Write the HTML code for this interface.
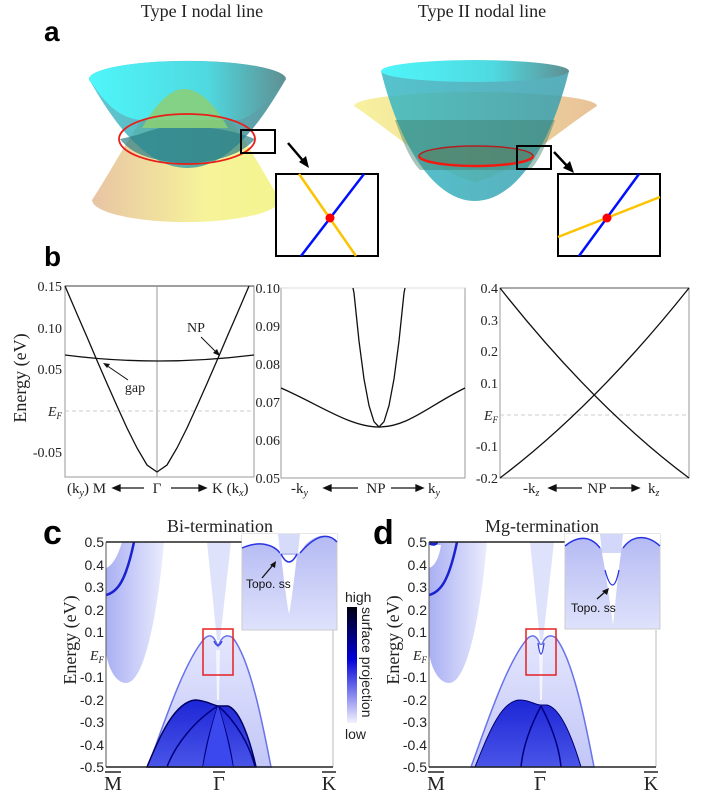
<!DOCTYPE html>
<html><head><meta charset="utf-8"><style>
html,body{margin:0;padding:0;background:#fff;}
svg{display:block;}
.s{font-family:"Liberation Serif",serif;}
.a{font-family:"Liberation Sans",sans-serif;}
</style></head><body>
<svg width="708" height="792" viewBox="0 0 708 792" xmlns="http://www.w3.org/2000/svg">
<defs>
<linearGradient id="yel1" x1="0" x2="1" y1="0" y2="0"><stop offset="0" stop-color="#e8c4a4"/><stop offset="0.6" stop-color="#f6f39a"/><stop offset="1" stop-color="#f4f48e"/></linearGradient>
<linearGradient id="cy1" x1="0" x2="1"><stop offset="0" stop-color="#2fb9c6"/><stop offset="1" stop-color="#2d7e88"/></linearGradient>
<linearGradient id="cyt" x1="0" x2="1"><stop offset="0" stop-color="#4ff6fa"/><stop offset="0.6" stop-color="#4fd9e0"/><stop offset="1" stop-color="#5f8f92"/></linearGradient>
<linearGradient id="yel2" x1="0" x2="1"><stop offset="0" stop-color="#f7f199"/><stop offset="1" stop-color="#e7bf93"/></linearGradient>
<linearGradient id="cy2" x1="0" x2="1"><stop offset="0" stop-color="#38b8c4"/><stop offset="1" stop-color="#3a9fae"/></linearGradient>
<linearGradient id="cb" x1="0" x2="0" y1="0" y2="1"><stop offset="0" stop-color="#000010"/><stop offset="0.45" stop-color="#0000d8"/><stop offset="1" stop-color="#f2f2ff"/></linearGradient>
<linearGradient id="dome" x1="0" x2="0" y1="0" y2="1"><stop offset="0" stop-color="#e4e6fd"/><stop offset="1" stop-color="#c2c7f7"/></linearGradient>
<linearGradient id="dark" x1="0" x2="0" y1="0" y2="1"><stop offset="0" stop-color="#1d26d6"/><stop offset="1" stop-color="#4a55e8"/></linearGradient>
<linearGradient id="ins" x1="0" x2="0" y1="0" y2="1"><stop offset="0" stop-color="#b3b9f3"/><stop offset="1" stop-color="#dfe2fb"/></linearGradient>
<linearGradient id="lf" x1="0" x2="1"><stop offset="0" stop-color="#8d95ef"/><stop offset="1" stop-color="#e3e5fc"/></linearGradient>
</defs>

<!-- Panel a -->
<text x="202" y="17" class="s" font-size="18" text-anchor="middle" fill="#222">Type I nodal line</text>
<text x="482" y="17" class="s" font-size="18" text-anchor="middle" fill="#222">Type II nodal line</text>
<text x="44" y="41" class="a" font-size="28" font-weight="bold">a</text>

<!-- Type I -->
<path d="M92,200 C125,150 150,89 184,89 C220,89 250,150 280,200 A94,22 0 0 1 92,200 Z" fill="url(#yel1)"/>
<path d="M89,79 C112,120 145,168 187,168 C230,168 262,120 286,79 A98,18 0 0 0 89,79 Z" fill="url(#cy1)" opacity="0.78"/>
<ellipse cx="187" cy="79" rx="98" ry="18" fill="url(#cyt)"/>
<path d="M89,79 C110,112 125,118 140,120 L240,120 C255,115 270,100 286,79 Z" fill="url(#cyt)"/>
<path d="M142,128 C155,105 170,89 184,89 C200,89 215,105 228,128 Z" fill="#8ccf74" opacity="0.85"/>
<path d="M120,139 C140,135 150,130 160,128 L210,128 C230,130 245,135 255,139 C245,150 230,160 187,164 C145,160 130,152 120,139 Z" fill="#2a7f88" opacity="0.7"/>
<ellipse cx="187" cy="139" rx="68" ry="25" fill="none" stroke="#e8201a" stroke-width="1.8"/>
<rect x="241" y="130" width="34" height="23" fill="none" stroke="#000" stroke-width="2"/>
<line x1="288" y1="143" x2="305" y2="163" stroke="#000" stroke-width="2.5"/>
<path d="M309,168 L299,162 L306,156 Z" fill="#000"/>
<rect x="276" y="174" width="102" height="82" fill="#fff" stroke="#000" stroke-width="2"/>
<line x1="299" y1="174" x2="356" y2="256" stroke="#fbc300" stroke-width="2.5"/>
<line x1="301" y1="256" x2="364" y2="174" stroke="#0010ff" stroke-width="2.5"/>
<circle cx="330" cy="218" r="4.5" fill="#f00"/>

<!-- Type II -->
<path d="M354,106 C390,130 440,175 475,182 C510,175 560,130 597,106 A121,14 0 0 0 354,106 Z" fill="url(#yel2)" opacity="0.95"/>
<path d="M381,71 C398,140 432,201 475,201 C518,201 552,140 569,71 Z" fill="url(#cy2)" opacity="0.85"/>
<path d="M395,120 L555,120 C548,140 540,160 530,170 L420,170 C410,160 402,140 395,120 Z" fill="#3e7e6a" opacity="0.45"/>
<ellipse cx="475" cy="71" rx="94" ry="11" fill="url(#cyt)"/>
<ellipse cx="476" cy="156" rx="57" ry="10" fill="#5a7a5a" opacity="0.5"/>
<path d="M419,156 A57,10 0 0 0 533,156" fill="none" stroke="#f01a10" stroke-width="2.5"/>
<path d="M419,156 A57,10 0 0 1 533,156" fill="none" stroke="#b02020" stroke-width="1.5"/>
<rect x="517" y="146" width="34" height="23" fill="none" stroke="#000" stroke-width="2"/>
<line x1="554" y1="152" x2="569" y2="168" stroke="#000" stroke-width="2.5"/>
<path d="M574,173 L563,168 L570,161 Z" fill="#000"/>
<rect x="558" y="174" width="102" height="82" fill="#fff" stroke="#000" stroke-width="2"/>
<line x1="579" y1="256" x2="639" y2="174" stroke="#0010ff" stroke-width="2.5"/>
<line x1="558" y1="237" x2="660" y2="197" stroke="#fbc300" stroke-width="2.5"/>
<circle cx="607" cy="218" r="4.5" fill="#f00"/>

<!-- Panel b -->
<text x="44" y="266" class="a" font-size="28" font-weight="bold">b</text>
<text transform="translate(26,378) rotate(-90)" class="s" font-size="18" text-anchor="middle" fill="#222">Energy (eV)</text>

<g class="s" font-size="14" fill="#222" text-anchor="end">
<text x="62" y="291">0.15</text><text x="62" y="333">0.10</text><text x="62" y="374">0.05</text>
<text x="62" y="416" font-style="italic">E<tspan font-size="9" dy="3">F</tspan></text>
<text x="62" y="457">-0.05</text>
<text x="280" y="293">0.10</text><text x="280" y="331">0.09</text><text x="280" y="369">0.08</text><text x="280" y="407">0.07</text><text x="280" y="445">0.06</text><text x="280" y="483">0.05</text>
<text x="498" y="293">0.4</text><text x="498" y="325">0.3</text><text x="498" y="356">0.2</text><text x="498" y="388">0.1</text>
<text x="498" y="420" font-style="italic">E<tspan font-size="9" dy="3">F</tspan></text>
<text x="498" y="451">-0.1</text><text x="498" y="483">-0.2</text>
</g>

<rect x="65" y="286" width="189" height="191" fill="none" stroke="#999" stroke-width="1"/>
<line x1="65" y1="286" x2="254" y2="286" stroke="#666" stroke-width="1.2"/>
<line x1="157" y1="286" x2="157" y2="477" stroke="#999" stroke-width="1"/>
<line x1="65" y1="411" x2="254" y2="411" stroke="#ccc" stroke-dasharray="4,3"/>
<polyline fill="none" stroke="#111" stroke-width="1.3" points="65,286 77,314 87,337 97,360.5 107,383.5 117,406 127,428 137,448 147,465 157,472 167,465 177,448 187,428 197,406 207,383.5 217,360.5 227,337 237,314 249,286"/>
<path d="M65,355 Q157,367 254,355" fill="none" stroke="#111" stroke-width="1.3"/>
<text x="135" y="392" class="s" font-size="14" text-anchor="middle" fill="#222">gap</text>
<line x1="128" y1="380" x2="106" y2="365" stroke="#111" stroke-width="1"/>
<path d="M103,363 L110,364 L107,368 Z" fill="#111"/>
<text x="196" y="332" class="s" font-size="14" text-anchor="middle" fill="#222">NP</text>
<line x1="201" y1="337" x2="217" y2="353" stroke="#111" stroke-width="1"/>
<path d="M220,356 L213,353 L217,349 Z" fill="#111"/>
<g class="s" font-size="15" fill="#222">
<text x="67" y="493">(k<tspan font-size="10" font-style="italic" dy="3">y</tspan><tspan dy="-3">) M</tspan></text>
<text x="157" y="493" text-anchor="middle">Γ</text>
<text x="212" y="493">K (k<tspan font-size="10" font-style="italic" dy="3">x</tspan><tspan dy="-3">)</tspan></text>
<text x="291" y="493">-k<tspan font-size="10" font-style="italic" dy="3">y</tspan></text>
<text x="376" y="493" text-anchor="middle">NP</text>
<text x="428" y="493">k<tspan font-size="10" font-style="italic" dy="3">y</tspan></text>
<text x="523" y="493">-k<tspan font-size="10" font-style="italic" dy="3">z</tspan></text>
<text x="597" y="493" text-anchor="middle">NP</text>
<text x="648" y="493">k<tspan font-size="10" font-style="italic" dy="3">z</tspan></text>
</g>
<g stroke="#111" stroke-width="1.3" fill="#111">
<line x1="116" y1="488" x2="144" y2="488"/><path d="M113,488 L120,485 L120,491 Z"/>
<line x1="171" y1="488" x2="202" y2="488"/><path d="M206,488 L199,485 L199,491 Z"/>
<line x1="328" y1="488" x2="358" y2="488"/><path d="M324,488 L331,485 L331,491 Z"/>
<line x1="391" y1="488" x2="419" y2="488"/><path d="M423,488 L416,485 L416,491 Z"/>
<line x1="553" y1="488" x2="582" y2="488"/><path d="M549,488 L556,485 L556,491 Z"/>
<line x1="610" y1="488" x2="635" y2="488"/><path d="M639,488 L632,485 L632,491 Z"/>
</g>

<rect x="281" y="288" width="184" height="190" fill="none" stroke="#999"/>
<line x1="281" y1="288" x2="465" y2="288" stroke="#ddd"/>
<polyline fill="none" stroke="#111" stroke-width="1.3" points="353,288 354,293 359,341 364,379 369,405.6 374,421.7 379,427 384,421.7 389,405.6 394,379 399,341 404,293 405,288"/>
<path d="M281,388 C320,405 350,427 379,427 C408,427 430,405 465,388" fill="none" stroke="#111" stroke-width="1.3"/>

<rect x="500" y="288" width="189" height="190" fill="none" stroke="#999"/>
<line x1="500" y1="288" x2="689" y2="288" stroke="#555"/>
<line x1="500" y1="415" x2="689" y2="415" stroke="#ccc" stroke-dasharray="4,3"/>
<path d="M500,288 Q594,407 689,478" fill="none" stroke="#111" stroke-width="1.3"/>
<path d="M500,478 Q594,407 689,288" fill="none" stroke="#111" stroke-width="1.3"/>

<!-- Panels c & d -->
<text x="43" y="544" class="a" font-size="34" font-weight="bold">c</text>
<text x="373" y="544" class="a" font-size="34" font-weight="bold">d</text>
<text x="220" y="532" class="s" font-size="18" text-anchor="middle" fill="#222">Bi-termination</text>
<text x="542" y="532" class="s" font-size="18" text-anchor="middle" fill="#222">Mg-termination</text>

<g>
<rect x="106" y="542" width="227" height="225" fill="#fff"/>
<path d="M106,542 L164,542 C158,610 145,683 126,683 C113,683 106,660 106,650 Z" fill="url(#lf)" opacity="0.75"/>
<path d="M106,542 L122,542 C118,556 112,566 106,568 Z" fill="#fff"/>
<path d="M106,595 C118,592 126,580 134,542" fill="none" stroke="#1a22d0" stroke-width="2.5"/>
<path d="M207,542 L231,542 L220,640 L217,640 Z" fill="#dfe2fb"/>
<path d="M148,767 C165,720 185,660 205,638 Q211,633 215,640 L218,646 L221,640 Q226,633 233,638 C250,660 262,720 271,767 Z" fill="url(#dome)" stroke="#6a73ea" stroke-width="1.5"/>
<path d="M216,650 L220,650 L219,700 L217,700 Z" fill="#f4f5ff"/>
<path d="M214,641 Q218,650 222,641" fill="none" stroke="#3a44e0" stroke-width="1.5"/>
<path d="M147,767 C160,735 175,702 195,700 C205,700 212,705 218,706 L228,706 C240,710 250,740 256,767 Z" fill="url(#dark)" stroke="#000060" stroke-width="1.5"/>
<path d="M218,706 C195,720 175,745 167,767 M218,706 C212,725 206,745 203,767 M218,706 C224,725 230,745 233,767 M218,706 C235,720 250,745 255,767" fill="none" stroke="#000080" stroke-width="1.5"/>
<path d="M203,767 C210,730 216,712 218,706 C220,712 226,730 233,767 Z" fill="#3a48ee"/>
<line x1="106" y1="542" x2="242" y2="542" stroke="#222" stroke-width="1.5"/>
<line x1="106" y1="542" x2="106" y2="767" stroke="#555"/>
<line x1="333" y1="630" x2="333" y2="767" stroke="#bbb"/>
<line x1="106" y1="767" x2="333" y2="767" stroke="#222" stroke-width="1.5"/>
<rect x="203" y="629" width="30" height="46" fill="none" stroke="#e62020" stroke-width="1.5"/>
<rect x="242" y="534" width="95" height="96" fill="url(#ins)" stroke="#ccc"/>
<path d="M242,534 L337,534 L337,542 C330,534 318,532 305,545 L300,553 L280,553 C274,545 260,540 242,548 Z" fill="#fff"/>
<path d="M242,548 C260,540 274,545 280,553 M300,553 C318,532 330,534 337,542" fill="none" stroke="#2a34e0" stroke-width="1.5"/>
<path d="M278,534 L300,534 L298,553 L280,553 Z" fill="#d7dbfa"/>
<path d="M281,555 L297,555 C294,580 291,605 289,614 C287,605 284,580 281,555 Z" fill="#fff"/>
<path d="M281,554 Q289,570 297,554" fill="none" stroke="#2a34e0" stroke-width="1.5"/>
<text x="246" y="588" class="a" font-size="12" fill="#111">Topo. ss</text>
<line x1="262" y1="578" x2="273" y2="565" stroke="#111" stroke-width="1.3"/>
<path d="M276,561 L275,568 L270,565 Z" fill="#111"/>
</g>

<g transform="translate(323,0)">
<rect x="106" y="542" width="227" height="225" fill="#fff"/>
<path d="M106,542 L164,542 C158,610 145,683 126,683 C113,683 106,660 106,650 Z" fill="url(#lf)" opacity="0.75"/>
<path d="M106,545 L118,545 C116,558 112,566 106,568 Z" fill="#fff"/>
<path d="M106,543 Q112,546 114,542" fill="none" stroke="#1a22d0" stroke-width="3"/>
<path d="M106,595 C118,592 126,580 134,542" fill="none" stroke="#1a22d0" stroke-width="2.5"/>
<path d="M207,542 L231,542 L220,640 L217,640 Z" fill="#dfe2fb"/>
<path d="M148,767 C165,720 185,660 205,638 Q211,633 215,640 L218,646 L221,640 Q226,633 233,638 C250,660 262,720 271,767 Z" fill="url(#dome)" stroke="#6a73ea" stroke-width="1.5"/>
<path d="M216,645 L220,645 L219,700 L217,700 Z" fill="#f4f5ff"/>
<path d="M215,643 Q218,665 221,643" fill="none" stroke="#3a44e0" stroke-width="1.3"/>
<path d="M152,767 C165,735 178,700 197,700 C207,700 212,705 218,705 L224,705 C238,708 250,740 258,767 Z" fill="url(#dark)" stroke="#000070" stroke-width="1"/>
<path d="M218,706 C208,725 200,745 198,767 M218,706 C228,725 236,745 238,767" fill="none" stroke="#000080" stroke-width="1.5"/>
<line x1="106" y1="542" x2="242" y2="542" stroke="#222" stroke-width="1.5"/>
<line x1="106" y1="542" x2="106" y2="767" stroke="#555"/>
<line x1="333" y1="630" x2="333" y2="767" stroke="#bbb"/>
<line x1="106" y1="767" x2="333" y2="767" stroke="#222" stroke-width="1.5"/>
<rect x="203" y="629" width="30" height="46" fill="none" stroke="#e62020" stroke-width="1.5"/>
<rect x="242" y="534" width="95" height="95" fill="url(#ins)" stroke="#ccc"/>
<path d="M242,534 L337,534 L337,546 C325,535 310,534 300,548 L277,548 C268,536 255,535 242,546 Z" fill="#fff"/>
<path d="M242,546 C255,535 268,536 277,548 M300,548 C310,534 325,535 337,546" fill="none" stroke="#2a34e0" stroke-width="1.5"/>
<path d="M277,534 L300,534 L298,553 L279,553 Z" fill="#d3d7f9"/>
<path d="M279,553 L298,553 C294,580 292,610 290,625 C288,610 284,580 279,553 Z" fill="#fff"/>
<path d="M282,570 Q290,600 296,570" fill="none" stroke="#2a34e0" stroke-width="1.3"/>
<text x="248" y="612" class="a" font-size="12" fill="#111">Topo. ss</text>
<line x1="274" y1="599" x2="283" y2="591" stroke="#111" stroke-width="1.3"/>
<path d="M286,588 L284,595 L279,591 Z" fill="#111"/>
</g>

<g class="a" font-size="14" fill="#222" text-anchor="end">
<text x="104" y="547">0.5</text><text x="104" y="570">0.4</text><text x="104" y="592">0.3</text><text x="104" y="615">0.2</text><text x="104" y="637">0.1</text>
<text x="104" y="660" class="s" font-style="italic">E<tspan font-size="9" dy="3">F</tspan></text>
<text x="104" y="682">-0.1</text><text x="104" y="705">-0.2</text><text x="104" y="727">-0.3</text><text x="104" y="750">-0.4</text><text x="104" y="772">-0.5</text>
<text x="427" y="547">0.5</text><text x="427" y="570">0.4</text><text x="427" y="592">0.3</text><text x="427" y="615">0.2</text><text x="427" y="637">0.1</text>
<text x="427" y="660" class="s" font-style="italic">E<tspan font-size="9" dy="3">F</tspan></text>
<text x="427" y="682">-0.1</text><text x="427" y="705">-0.2</text><text x="427" y="727">-0.3</text><text x="427" y="750">-0.4</text><text x="427" y="772">-0.5</text>
</g>
<text transform="translate(76,640) rotate(-90)" class="s" font-size="18" text-anchor="middle" fill="#222">Energy (eV)</text>
<text transform="translate(399,640) rotate(-90)" class="s" font-size="18" text-anchor="middle" fill="#222">Energy (eV)</text>
<g class="s" font-size="20" fill="#222" text-anchor="middle">
<text x="113" y="790">M</text><text x="219" y="790">Γ</text><text x="329" y="790">K</text>
<text x="436" y="790">M</text><text x="540" y="790">Γ</text><text x="651" y="790">K</text>
</g>
<g stroke="#222" stroke-width="1.5">
<line x1="105" y1="772" x2="121" y2="772"/><line x1="213" y1="772" x2="225" y2="772"/><line x1="322" y1="772" x2="336" y2="772"/>
<line x1="428" y1="772" x2="444" y2="772"/><line x1="534" y1="772" x2="546" y2="772"/><line x1="644" y1="772" x2="658" y2="772"/>
</g>

<text x="345" y="602" class="a" font-size="14" fill="#222">high</text>
<rect x="347" y="607" width="10" height="116" fill="url(#cb)"/>
<text transform="translate(362,607) rotate(90)" class="a" font-size="14" fill="#222">surface projection</text>
<text x="345" y="739" class="a" font-size="14" fill="#222">low</text>
</svg>
</body></html>
